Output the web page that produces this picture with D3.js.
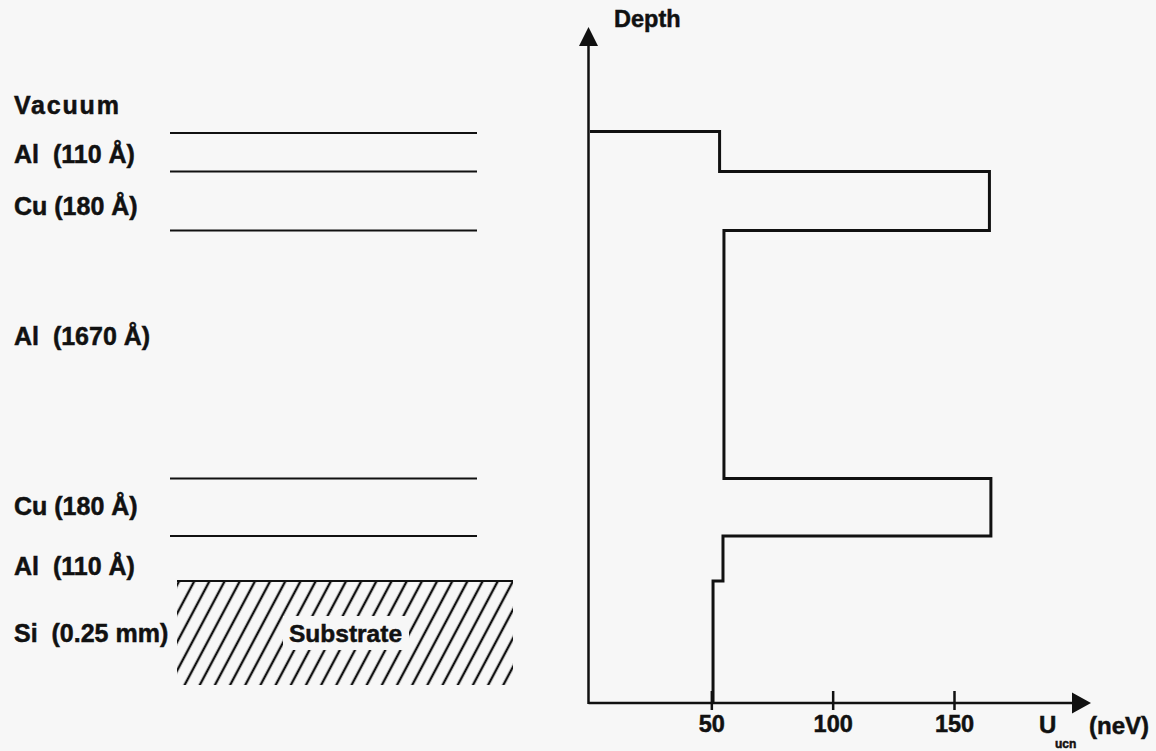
<!DOCTYPE html>
<html>
<head>
<meta charset="utf-8">
<script src="https://cdn.jsdelivr.net/npm/d3@7"></script>
<style>
  html, body { margin: 0; padding: 0; background: #f7f7f7; }
  svg { display: block; }
  text { font-family: "Liberation Sans", Arial, Helvetica, sans-serif; font-weight: bold; fill: #111; stroke: #111; stroke-width: 0.5px; }
</style>
</head>
<body>
<svg id="chart" width="1156" height="751"></svg>
<script>
// ---- data ----
const layerNames = ["Vacuum", "Al  (110 Å)", "Cu (180 Å)", "Al  (1670 Å)", "Cu (180 Å)", "Al  (110 Å)", "Si  (0.25 mm)"];
// schematic depth of each interface below the surface (arbitrary drawing units)
const interfaceDepths = [0, 40, 99, 347, 404.5, 449.5];
// depth of the bottom of the substrate (where the depth axis starts)
const bottomDepth = 571.5;
// schematic depth of each label's baseline
const labelDepths = [-17.5, 31.5, 83.5, 213.5, 383.5, 443.5, 510.5];
// Fermi potential of each layer, neV
const potentials = [0, 53.4, 164.6, 55.2, 165.2, 54.8, 50.7];
const xTicks = [50, 100, 150];
const xTickLabels = ["50", "100", "150"];

// ---- layout ----
const svg = d3.select("#chart");
const bg = "#f7f7f7";
const ink = "#111";

const x = d3.scaleLinear().domain([0, 150]).range([590, 954]);
const y = d3.scaleLinear().domain([0, bottomDepth]).range([131.5, 703]);

const axisX0 = x(0), axisY0 = y(bottomDepth);
const xArrowTip = 1091, yArrowTip = 27;

// ---- left: layer sketch ----
const sketchX0 = 170, sketchX1 = 477;
const hatchX0 = 177, hatchX1 = 513, hatchBottom = 685;

svg.selectAll("line.layer")
  .data(interfaceDepths.slice(1, 5))
  .enter().append("line")
  .attr("class", "layer")
  .attr("x1", sketchX0).attr("x2", sketchX1)
  .attr("y1", d => y(d)).attr("y2", d => y(d))
  .attr("stroke", ink).attr("stroke-width", 2);
// the first interface (vacuum / Al) line
svg.append("line")
  .attr("x1", sketchX0).attr("x2", sketchX1)
  .attr("y1", y(interfaceDepths[0]) + 1.5).attr("y2", y(interfaceDepths[0]) + 1.5)
  .attr("stroke", ink).attr("stroke-width", 2);

// hatched substrate
const defs = svg.append("defs");
const pat = defs.append("pattern")
  .attr("id", "hatch")
  .attr("patternUnits", "userSpaceOnUse")
  .attr("width", 13.4).attr("height", 40)
  .attr("patternTransform", "translate(" + hatchX0 + ",0) rotate(28)");
pat.append("line")
  .attr("x1", 6.7).attr("x2", 6.7).attr("y1", -5).attr("y2", 45)
  .attr("stroke", ink).attr("stroke-width", 2.4);

const siTop = y(interfaceDepths[5]);
svg.append("rect")
  .attr("x", hatchX0).attr("y", siTop)
  .attr("width", hatchX1 - hatchX0).attr("height", hatchBottom - siTop)
  .attr("fill", "url(#hatch)");
svg.append("line")
  .attr("x1", hatchX0).attr("x2", hatchX1)
  .attr("y1", siTop).attr("y2", siTop)
  .attr("stroke", ink).attr("stroke-width", 2.2);

// Substrate label with blank box
svg.append("rect")
  .attr("x", 283).attr("y", 616).attr("width", 126).attr("height", 34)
  .attr("fill", bg);
svg.append("text")
  .attr("x", 289).attr("y", 642)
  .attr("font-size", 24.5)
  .text("Substrate");

// layer labels
svg.selectAll("text.lbl")
  .data(layerNames)
  .enter().append("text")
  .attr("class", "lbl")
  .attr("x", 14)
  .attr("y", (d, i) => y(labelDepths[i]))
  .attr("font-size", 25)
  .attr("letter-spacing", (d, i) => i === 0 ? 1.8 : 0)
  .attr("xml:space", "preserve")
  .style("white-space", "pre")
  .text(d => d);

// ---- right: potential profile ----
const pts = [[potentials[0], interfaceDepths[0]]];
for (let i = 1; i < potentials.length; i++) {
  const top = interfaceDepths[i - 1];
  const bot = i < interfaceDepths.length ? interfaceDepths[i] : bottomDepth;
  pts.push([potentials[i], top]);
  pts.push([potentials[i], bot]);
}
svg.append("path")
  .attr("d", d3.line().x(d => x(d[0])).y(d => y(d[1]))(pts))
  .attr("fill", "none").attr("stroke", ink)
  .attr("stroke-width", 3).attr("stroke-linejoin", "miter");

// axes
svg.append("line")
  .attr("x1", axisX0 - 1.5).attr("x2", xArrowTip - 19)
  .attr("y1", axisY0).attr("y2", axisY0)
  .attr("stroke", ink).attr("stroke-width", 2.5);
svg.append("path")
  .attr("d", `M${xArrowTip},${axisY0} L${xArrowTip - 19},${axisY0 - 10.5} L${xArrowTip - 19},${axisY0 + 10.5} Z`)
  .attr("fill", ink);

svg.append("line")
  .attr("x1", axisX0 - 1.5).attr("x2", axisX0 - 1.5)
  .attr("y1", axisY0 + 1).attr("y2", yArrowTip + 19)
  .attr("stroke", ink).attr("stroke-width", 2.5);
svg.append("path")
  .attr("d", `M${axisX0 - 1.5},${yArrowTip} L${axisX0 - 11},${yArrowTip + 19} L${axisX0 + 8},${yArrowTip + 19} Z`)
  .attr("fill", ink);

// ticks
const gx = svg.append("g").attr("transform", `translate(0,${axisY0})`)
  .call(d3.axisBottom(x).tickValues(xTicks).tickFormat((d, i) => xTickLabels[i]).tickSize(7));
gx.select(".domain").remove();
gx.selectAll(".tick line").attr("y1", -12).attr("y2", 7)
  .attr("stroke", ink).attr("stroke-width", 2.5);
gx.selectAll(".tick text")
  .attr("y", 29).attr("dy", 0)
  .attr("font-size", 23.5)
  .attr("font-family", null)
  .attr("fill", ink);

// axis titles
svg.append("text").attr("x", 614).attr("y", 27).attr("font-size", 23.5).text("Depth");
svg.append("text").attr("x", 1039).attr("y", 733).attr("font-size", 24).text("U");
svg.append("text").attr("x", 1055).attr("y", 748).attr("font-size", 12).text("ucn");
svg.append("text").attr("x", 1089).attr("y", 734).attr("font-size", 24).text("(neV)");
</script>
</body>
</html>
